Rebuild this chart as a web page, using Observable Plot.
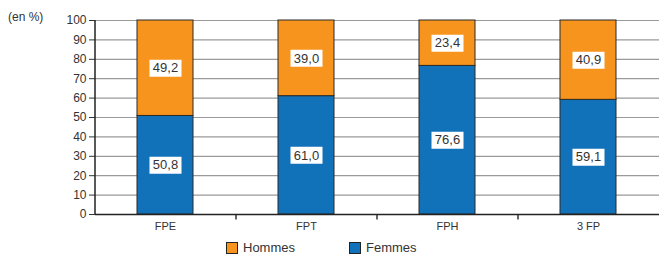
<!DOCTYPE html>
<html>
<head>
<meta charset="utf-8">
<script src="https://cdn.jsdelivr.net/npm/d3@7"></script>
<script src="https://cdn.jsdelivr.net/npm/@observablehq/plot@0.6"></script>
<style>
  html, body { margin: 0; padding: 0; background: #fff; overflow: hidden; }
  #wrap { position: relative; width: 659px; height: 254px; font-family: "Liberation Sans", Arial, sans-serif; color: #333; }
  #unit { position: absolute; left: 8px; top: 10px; font-size: 12px; color: #333; }
  #legend { position: absolute; top: 240px; left: 226px; font-size: 13px; color: #333; display: flex; gap: 0; }
  .item { display: flex; align-items: center; margin-right: 0; }
  .sw { width: 10px; height: 10px; border: 1px solid #222; margin-right: 5px; }
  svg { position: absolute; left: 0; top: 0; }
</style>
</head>
<body>
<div id="wrap">
  <div id="unit">(en %)</div>
  <div id="chart"></div>
  <div id="legend">
    <div class="item" style="width:123px"><div class="sw" style="background:#F7941D"></div>Hommes</div>
    <div class="item"><div class="sw" style="background:#1172BA"></div>Femmes</div>
  </div>
</div>
<script>
const categories = ["FPE", "FPT", "FPH", "3 FP"];
const femmes = [50.8, 61.0, 76.6, 59.1];
const hommes = [49.2, 39.0, 23.4, 40.9];
const series = ["Femmes", "Hommes"];
const colors = ["#1172BA", "#F7941D"];
const yTicks = [0, 10, 20, 30, 40, 50, 60, 70, 80, 90, 100];

const data = [];
categories.forEach((c, i) => {
  data.push({cat: c, serie: "Femmes", value: femmes[i]});
  data.push({cat: c, serie: "Hommes", value: hommes[i]});
});

const fmt = v => v.toFixed(1).replace(".", ",");

const boxSymbol = {
  draw(context) {
    const w = 32, h = 17;
    context.rect(-w / 2, -h / 2, w, h);
  }
};
const tickSymbol = {
  draw(context) {
    context.moveTo(0, 0);
    context.lineTo(0, 5);
  }
};

const chart = Plot.plot({
  width: 659,
  height: 240,
  marginLeft: 95,
  marginRight: 0,
  marginTop: 20,
  marginBottom: 26,
  style: { fontFamily: "'Liberation Sans', Arial, sans-serif", fontSize: "12px", color: "#333", background: "transparent" },
  x: { domain: categories, paddingInner: 0.6, paddingOuter: 0.3, label: null },
  y: { domain: [0, 100], label: null },
  color: { domain: series, range: colors },
  marks: [
    Plot.ruleY(yTicks.filter(d => d > 0), { y: d => d, stroke: "#9a9a9a", strokeWidth: 1.2 }),
    Plot.barY(data, Plot.stackY({ x: "cat", y: "value", fill: "serie", z: "serie", stroke: "#2a2a2a", strokeWidth: 1, order: series })),
    Plot.dot(data, Plot.stackY({ x: "cat", y: "value", z: "serie", order: series, symbol: boxSymbol, fill: "white", stroke: "none", r: 5 })),
    Plot.text(data, Plot.stackY({ x: "cat", y: "value", z: "serie", order: series, text: d => fmt(d.value), fill: "#333", fontSize: 13 })),
    Plot.axisY({ ticks: yTicks, tickSize: 6, tickPadding: 3, stroke: "#333", label: null, fontSize: 12 }),
    Plot.axisX({ tickSize: 0, tickPadding: 8, label: null, fontSize: 11 }),
    Plot.dot(categories.slice(0, 3), { x: d => d, y: 0, dx: 70.5, symbol: tickSymbol, stroke: "#333", fill: "none", r: 5 }),
    Plot.ruleX([categories[0]], { x: d => d, dx: -70.5, y1: 0, y2: 100, stroke: "#222", strokeWidth: 1.5 }),
    Plot.ruleY([0], { stroke: "#222", strokeWidth: 1.5 })
  ]
});
document.getElementById("chart").appendChild(chart);
</script>
</body>
</html>
